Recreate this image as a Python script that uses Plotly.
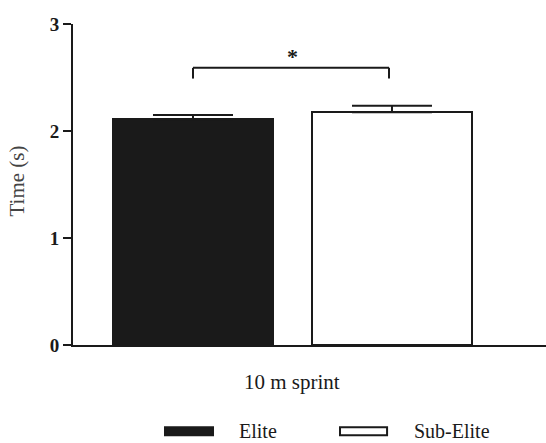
import plotly.graph_objects as go

# ---- data ----
groups = ["Elite", "Sub-Elite"]
category = "10 m sprint"
means = [2.11, 2.175]
errors = [0.04, 0.06]
fills = ["#1a1a1a", "#ffffff"]
y_ticks = [0, 1, 2, 3]
y_title = "Time (s)"
sig_label = "*"
sig_y = 2.59

FONT = "Liberation Serif"
x_pos = list(range(len(groups)))

fig = go.Figure()
for i, g in enumerate(groups):
    fig.add_trace(go.Bar(
        x=[x_pos[i]], y=[means[i]], name=g, width=0.8,
        marker=dict(color=fills[i], line=dict(color="#1a1a1a", width=2)),
        error_y=dict(type="data", symmetric=False, array=[errors[i]], arrayminus=[0],
                     color="#1a1a1a", thickness=2, width=40),
        showlegend=False,
    ))

# significance bracket
fig.add_shape(type="line", x0=x_pos[0], x1=x_pos[1] - 0.015, y0=sig_y, y1=sig_y,
              line=dict(color="#1a1a1a", width=2))
fig.add_shape(type="line", x0=x_pos[0], x1=x_pos[0], y0=sig_y, y1=sig_y - 0.1,
              line=dict(color="#1a1a1a", width=2))
fig.add_shape(type="line", x0=x_pos[1] - 0.015, x1=x_pos[1] - 0.015, y0=sig_y, y1=sig_y - 0.1,
              line=dict(color="#1a1a1a", width=2))
fig.add_annotation(x=(x_pos[0] + x_pos[1]) / 2, y=sig_y - 0.03, text="<b>" + sig_label + "</b>",
                   showarrow=False, yanchor="bottom", font=dict(family=FONT, size=22, color="#1a1a1a"))

# x category label
fig.add_annotation(x=(x_pos[0] + x_pos[1]) / 2, xref="x", y=-0.115, yref="paper",
                   text=category, showarrow=False, yanchor="middle",
                   font=dict(family=FONT, size=21, color="#1a1a1a"))
# y title
fig.add_annotation(x=-0.118, xref="paper", y=0.51, yref="paper", text=y_title, textangle=-90,
                   showarrow=False, xanchor="center", yanchor="middle",
                   font=dict(family=FONT, size=21, color="#444444"))

# manual legend
leg_rects = [(0.1945, 0.296), (0.5645, 0.664)]
leg_text_x = [0.347, 0.717]
for i, g in enumerate(groups):
    fig.add_shape(type="rect", xref="paper", yref="paper",
                  x0=leg_rects[i][0], x1=leg_rects[i][1], y0=-0.281, y1=-0.256,
                  fillcolor=fills[i], line=dict(color="#1a1a1a", width=2))
    fig.add_annotation(x=leg_text_x[i], xref="paper", y=-0.268, yref="paper", text=g,
                       showarrow=False, xanchor="left", yanchor="middle",
                       font=dict(family=FONT, size=20, color="#1a1a1a"))

fig.update_layout(
    width=546, height=443,
    margin=dict(l=73, r=0, t=24, b=98),
    plot_bgcolor="white", paper_bgcolor="white",
    bargap=0,
)
fig.update_xaxes(range=[-0.603, 1.774], showticklabels=False, ticks="", showgrid=False,
                 zeroline=False, showline=True, linecolor="#1a1a1a", linewidth=2)
fig.update_yaxes(range=[0, 3], tickvals=y_ticks, ticktext=["<b>%d</b>" % t for t in y_ticks],
                 ticks="outside", ticklen=8, tickwidth=2, tickcolor="#1a1a1a",
                 showgrid=False, zeroline=False, showline=True, linecolor="#1a1a1a", linewidth=2,
                 tickfont=dict(family=FONT, size=19, color="#1a1a1a"))

fig.write_html("out.html")
